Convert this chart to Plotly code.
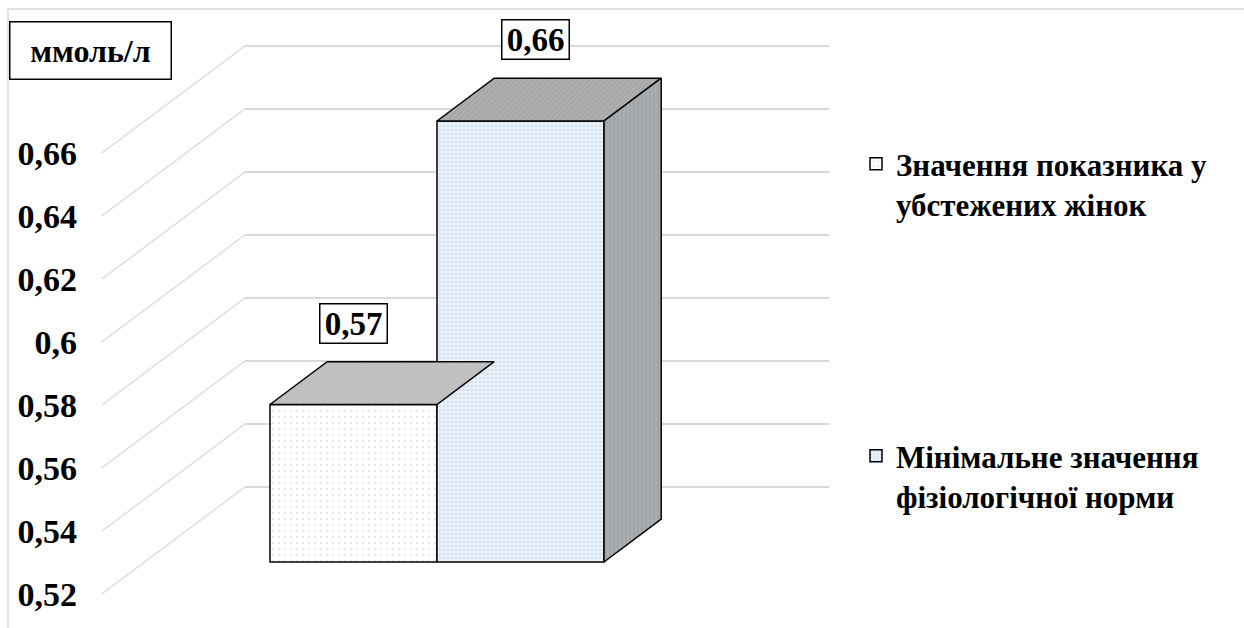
import plotly.graph_objects as go

# ---------------- data ----------------
series_names = ["Значення показника у<br>убстежених жінок",
                "Мінімальне значення<br>фізіологічної норми"]
values = [0.57, 0.66]
value_labels = ["0,57", "0,66"]
tick_values = [0.52, 0.54, 0.56, 0.58, 0.60, 0.62, 0.64, 0.66]
tick_labels = ["0,52", "0,54", "0,56", "0,58", "0,6", "0,62", "0,64", "0,66"]
unit_label = "ммоль/л"
FLOOR = 0.52

# ---------------- layout geometry (styling) ----------------
W, H = 1244, 628
ML, MR, MT, MB = 78, 404, 0, 0
PX_PER_X = 167.0
PX_PER_Y = 3150.0
X0_PX = 353.5
FLOOR_PX = 562.0
x_range = [(ML - X0_PX) / PX_PER_X, (W - MR - X0_PX) / PX_PER_X]
y_range = [FLOOR - (H - MB - FLOOR_PX) / PX_PER_Y, FLOOR + (FLOOR_PX - MT) / PX_PER_Y]
plot_w, plot_h = W - ML - MR, H - MT - MB

DX, DY = 143 / PX_PER_X, 107 / PX_PER_Y   # full depth of the 3D box
FRONT, BACK, BAR_D = -0.3, 0.7, 0.4
WALL_X = (-1.25, 2.25)
positions = [0, 1]
BAR_W = 1.0

FONT = "Liberation Serif"
GRID = "#d9d9d9"

fig = go.Figure()

front_styles = [
    dict(bg="#ffffff", fg="#c4c4c4", size=6, sol=0.1),
    dict(bg="#eaf1f8", fg="#b3cbe2", size=4, sol=0.3),
]

for i, (name, v) in enumerate(zip(series_names, values)):
    st = front_styles[i]
    fig.add_trace(go.Bar(
        x=[positions[i]], y=[v - FLOOR], base=[FLOOR], width=[BAR_W],
        name=name, legend="legend" if i == 0 else "legend2",
        marker=dict(color=st["bg"], line=dict(color="black", width=1.5),
                    pattern=dict(shape=".", fgcolor=st["fg"], bgcolor=st["bg"],
                                 size=st["size"], solidity=st["sol"])),
        hoverinfo="skip",
    ))

# 3D top and side faces computed from values
ddx, ddy = BAR_D * DX, BAR_D * DY
for i, v in enumerate(values):
    xl = positions[i] - BAR_W / 2
    xr = positions[i] + BAR_W / 2
    clip = xr
    if i + 1 < len(values) and values[i + 1] >= v + ddy:
        clip = positions[i + 1] - BAR_W / 2
    if clip >= xr:
        tx = [xl, xl + ddx, xr + ddx, xr, xl]
    else:
        tx = [xl, xl + ddx, clip, clip, xl]
    ty = [v, v + ddy, v + ddy, v, v]
    top_bg = "#bfbfbf" if i == 0 else "#a8a8a8"
    fig.add_trace(go.Scatter(
        x=tx, y=ty, mode="lines", fill="toself", fillcolor=top_bg,
        fillpattern=dict(shape="/", fgcolor="#d0d0d0", bgcolor=top_bg, size=4, solidity=0.2),
        line=dict(color="black", width=1.5), showlegend=False, hoverinfo="skip"))
    if clip >= xr and (i + 1 >= len(values) or values[i + 1] < v):
        sx = [xr, xr + ddx, xr + ddx, xr, xr]
        sy = [FLOOR, FLOOR + ddy, v + ddy, v, FLOOR]
        fig.add_trace(go.Scatter(
            x=sx, y=sy, mode="lines", fill="toself", fillcolor="#a2a5a8",
            fillpattern=dict(shape="|", fgcolor="#c4c6c8", bgcolor="#a2a5a8", size=4, solidity=0.25),
            line=dict(color="black", width=1.5), showlegend=False, hoverinfo="skip"))

# gridlines on the walls
shapes = []
for v in tick_values:
    shapes.append(dict(type="line", xref="x", yref="y", layer="below",
                       x0=WALL_X[0] + FRONT * DX, y0=v + FRONT * DY,
                       x1=WALL_X[0] + BACK * DX, y1=v + BACK * DY,
                       line=dict(color=GRID, width=1.2)))
    shapes.append(dict(type="line", xref="x", yref="y", layer="below",
                       x0=WALL_X[0] + BACK * DX, y0=v + BACK * DY,
                       x1=WALL_X[1] + BACK * DX, y1=v + BACK * DY,
                       line=dict(color=GRID, width=2)))
# chart area border
shapes.append(dict(type="rect", xref="paper", yref="paper", layer="below",
                   x0=(8 - ML) / plot_w, x1=(W + 20 - ML) / plot_w,
                   y0=-0.2, y1=1 - (9 - MT) / plot_h,
                   line=dict(color=GRID, width=1.5), fillcolor="rgba(0,0,0,0)"))

annotations = []
label_xshift = [0, 15]
for i, v in enumerate(values):
    annotations.append(dict(
        x=positions[i], y=v, xref="x", yref="y", text=value_labels[i],
        showarrow=False, yshift=81.5, xshift=label_xshift[i],
        xanchor="center", yanchor="middle",
        font=dict(family=FONT, size=33, color="black", weight="bold"),
        bgcolor="white", bordercolor="black", borderwidth=1.5, borderpad=3,
        width=60, height=32))
annotations.append(dict(
    x=(90 - ML) / plot_w, y=1 - (50.5 - MT) / plot_h, xref="paper", yref="paper",
    xanchor="center", yanchor="middle",
    text=unit_label, showarrow=False,
    font=dict(family=FONT, size=32, color="black", weight="bold"),
    bgcolor="white", bordercolor="black", borderwidth=1.5, borderpad=5,
    width=150, height=46))

legend_common = dict(
    xref="container", yref="container", xanchor="left", yanchor="top",
    valign="top", bgcolor="rgba(0,0,0,0)",
    font=dict(family=FONT, size=31, color="black", weight="bold"),
    itemwidth=30)

fig.update_layout(
    width=W, height=H, margin=dict(l=ML, r=MR, t=MT, b=MB),
    paper_bgcolor="white", plot_bgcolor="rgba(0,0,0,0)",
    barmode="overlay", showlegend=True,
    font=dict(family=FONT),
    xaxis=dict(range=x_range, showgrid=False, zeroline=False, showticklabels=False,
               showline=False, fixedrange=True),
    yaxis=dict(range=y_range, showgrid=False, zeroline=False, showline=False,
               tickvals=[t + FRONT * DY for t in tick_values], ticktext=tick_labels,
               ticks="", tickfont=dict(family=FONT, size=34, color="black", weight="bold"),
               fixedrange=True),
    legend=dict(x=856 / W, y=1 - 137 / H, **legend_common),
    legend2=dict(x=856 / W, y=1 - 429 / H, **legend_common),
    shapes=shapes, annotations=annotations,
)

fig.write_html("out.html")
